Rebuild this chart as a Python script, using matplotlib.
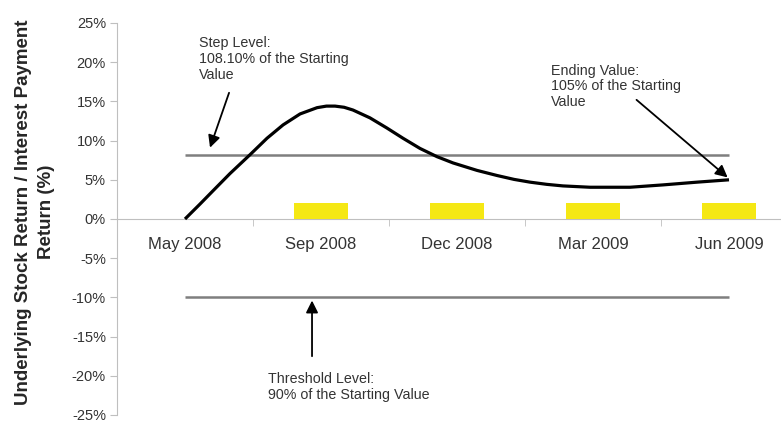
import matplotlib
matplotlib.use("Agg")
import matplotlib.pyplot as plt
import numpy as np

plt.rcParams['font.family'] = ['Liberation Sans', 'DejaVu Sans']

categories = ["May 2008", "Sep 2008", "Dec 2008", "Mar 2009", "Jun 2009"]
interest_payments = [np.nan, 2.1, 2.1, 2.1, 2.1]

# underlying stock return curve (position in category units, return in %)
stock_x = [0.0, 0.110, 0.206, 0.331, 0.478, 0.603, 0.721, 0.846, 0.971, 1.040, 1.103,
           1.170, 1.235, 1.360, 1.485, 1.603, 1.728, 1.853, 1.971, 2.147, 2.294, 2.420,
           2.537, 2.660, 2.779, 2.978, 3.272, 3.515, 3.765, 4.0]
stock_y = [0.0, 1.9, 3.6, 5.8, 8.2, 10.3, 12.0, 13.4, 14.2, 14.4, 14.4,
           14.25, 13.9, 12.9, 11.6, 10.3, 9.0, 7.95, 7.15, 6.2, 5.55, 5.05,
           4.7, 4.42, 4.22, 4.05, 4.05, 4.35, 4.7, 5.0]

step_level = 8.1
threshold_level = -10.0

fig = plt.figure(figsize=(7.81, 4.24), dpi=100)
ax = fig.add_axes([117/781, 9/424, 680/781, 392/424])

x = np.arange(len(categories))
ax.bar(x, interest_payments, width=0.40, color='#f5e814', zorder=2)
ax.hlines([step_level, threshold_level], 0, len(categories) - 1,
          colors='#7f7f7f', linewidth=1.8, zorder=3)
ax.plot(stock_x, stock_y, color='black', linewidth=2.3, zorder=4,
        solid_capstyle='butt', solid_joinstyle='round')

ax.set_xlim(-0.5, len(categories) - 0.5)
ax.set_ylim(-25, 25)
ax.set_yticks(np.arange(-25, 26, 5))
ax.set_yticklabels([f"{v}%" for v in range(-25, 26, 5)])
ax.set_xticks(x)
ax.set_xticklabels(categories)
ax.set_xticks(np.arange(0.5, len(categories) - 0.5, 1.0), minor=True)

for s in ['top', 'right']:
    ax.spines[s].set_visible(False)
ax.spines['bottom'].set_position(('data', 0))
ax.spines['bottom'].set_color('#bfbfbf')
ax.spines['left'].set_color('#bfbfbf')
ax.spines['bottom'].set_zorder(1)

ax.tick_params(axis='y', length=5, color='#bfbfbf', labelsize=10.5,
               labelcolor='#333333', pad=3)
ax.tick_params(axis='x', which='major', length=0, labelsize=12,
               labelcolor='#333333', pad=13)
ax.tick_params(axis='x', which='minor', length=5, color='#bfbfbf')

arrow = dict(arrowstyle='-|>', color='black', lw=1.3, mutation_scale=18,
             shrinkA=0, shrinkB=0)
txt = dict(fontsize=10.3, color='#333333', ha='left', va='top', linespacing=1.15)

ax.annotate("", xy=(0.184, 9.1), xytext=(0.324, 16.1), arrowprops=arrow, zorder=5)
ax.text(0.103, 23.3, "Step Level:\n108.10% of the Starting\nValue", **txt)

ax.annotate("", xy=(3.99, 5.3), xytext=(3.32, 15.2), arrowprops=arrow, zorder=5)
ax.text(2.69, 19.8, "Ending Value:\n105% of the Starting\nValue", **txt)

ax.annotate("", xy=(0.934, -10.4), xytext=(0.934, -17.5), arrowprops=arrow, zorder=5)
ax.text(0.61, -19.5, "Threshold Level:\n90% of the Starting Value", **txt)

fig.text(35/781, 0.50, "Underlying Stock Return / Interest Payment\nReturn (%)",
         rotation=90, ha='center', va='center', multialignment='center',
         fontsize=13.5, fontweight='bold', color='#262626', linespacing=1.45)

fig.savefig("out.png", dpi=100)
